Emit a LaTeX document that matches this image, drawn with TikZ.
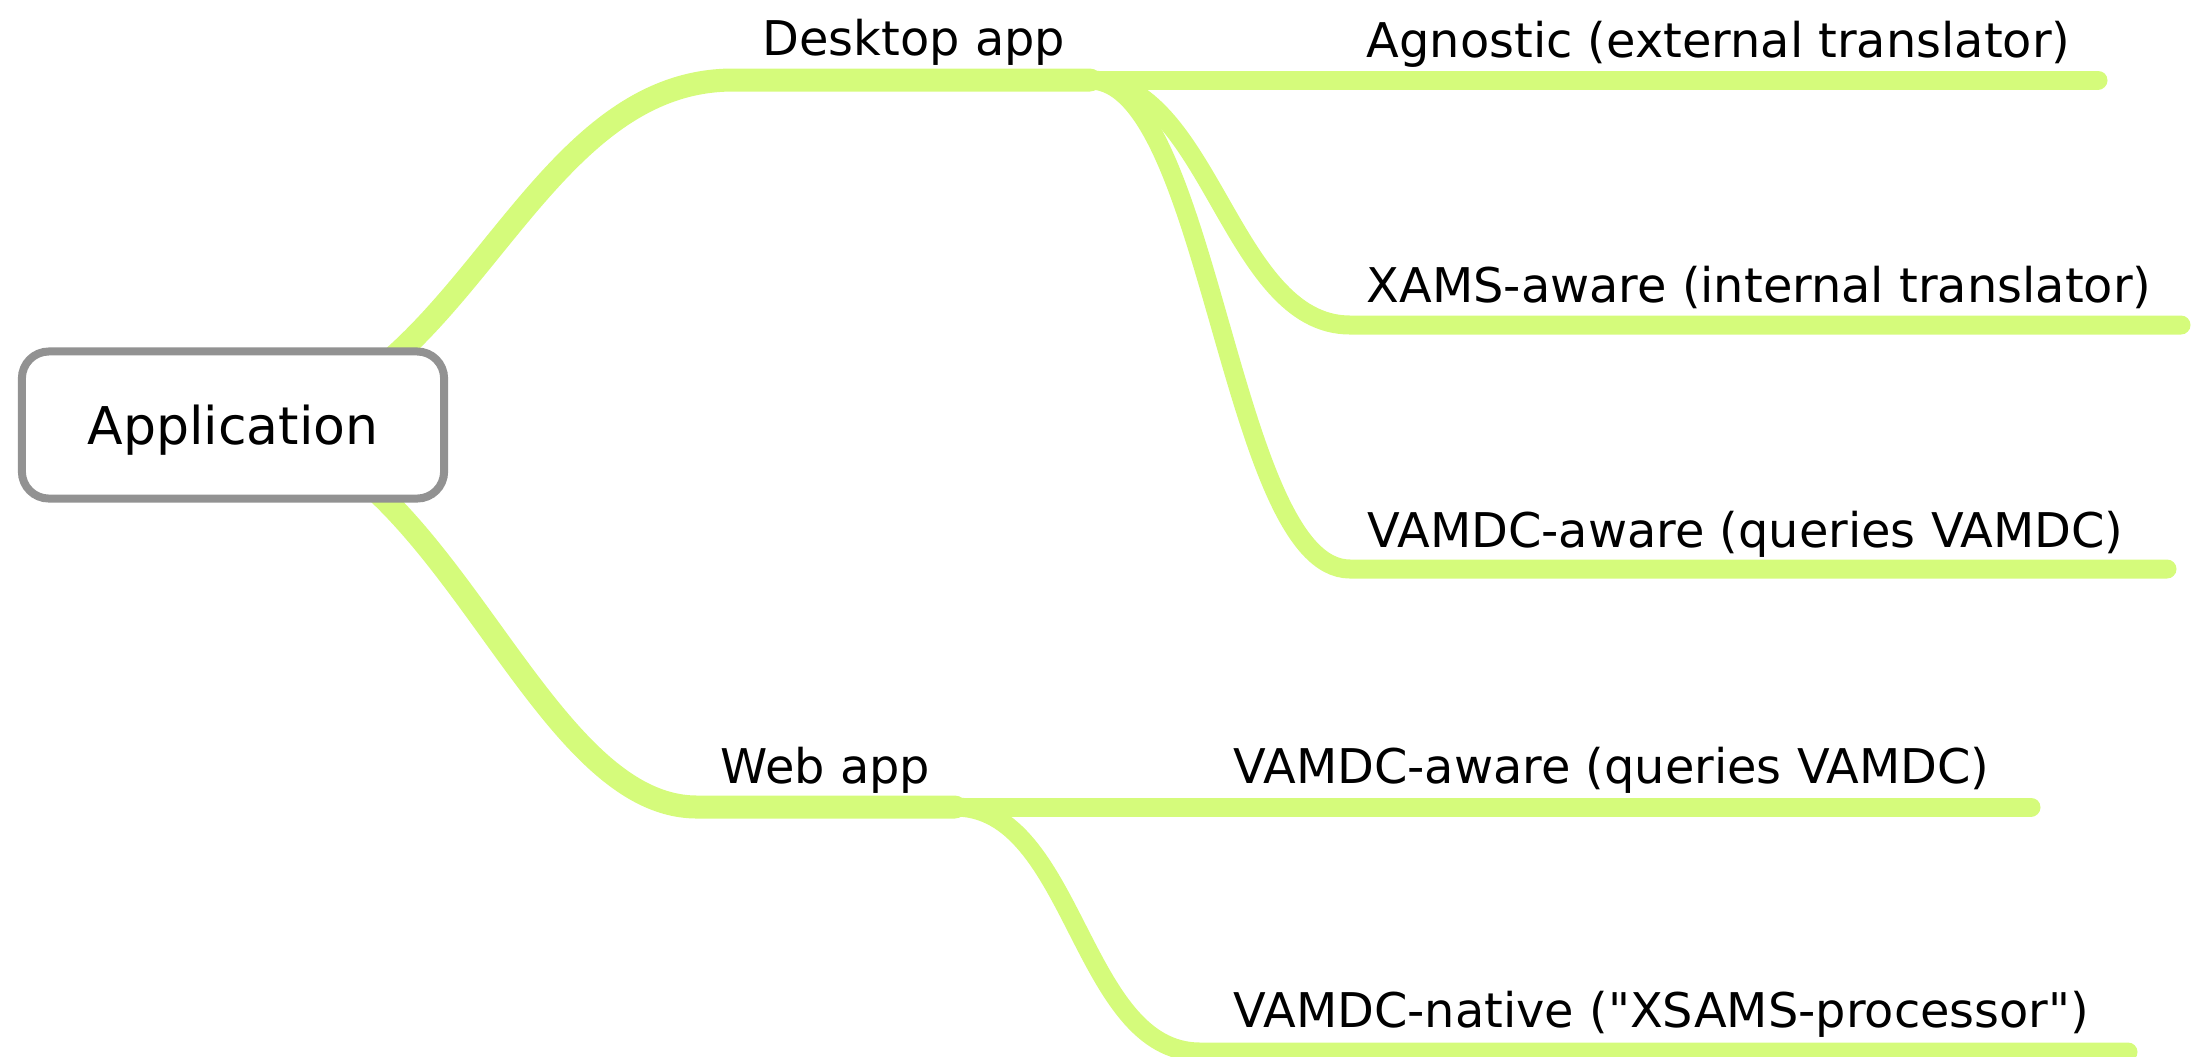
\documentclass[tikz,border=0pt]{standalone}
\usepackage{fontspec}
\setmainfont{DejaVu Sans}
\usetikzlibrary{positioning,backgrounds}
\definecolor{branchgreen}{RGB}{213,251,123}
\definecolor{boxgray}{RGB}{146,146,146}
\tikzstyle{branch} = [draw=branchgreen, line width=0.23cm, line cap=round]
\tikzstyle{twig}   = [draw=branchgreen, line width=0.19cm, line cap=round]

\begin{document}
\begin{tikzpicture}[x=0.01cm, y=-0.01cm,
		root/.style={draw=boxgray, line width=0.08cm, rounded corners=0.27cm, fill=white,
				minimum width=4.22cm, minimum height=1.47cm, text depth=0pt,
				font=\fontsize{14.8}{18}\selectfont},
		leaf/.style={anchor=base west, inner sep=0pt, font=\fontsize{13.6}{16}\selectfont},
	]
	\useasboundingbox (0,0) rectangle (2193,1056);

	\node[root] (app) at (233,425) {Application};

	% topics
	\node[leaf] (desktop)  at (762,55)   {Desktop app};
	\node[leaf] (web)      at (720,783)  {Web app};
	\node[leaf] (agnostic) at (1366,57)  {Agnostic (external translator)};
	\node[leaf] (xams)     at (1366,302) {XAMS-aware (internal translator)};
	\node[leaf] (vamdcd)   at (1367,547) {VAMDC-aware (queries VAMDC)};
	\node[leaf] (vamdcw)   at (1233,783) {VAMDC-aware (queries VAMDC)};
	\node[leaf] (vamdcn)   at (1233,1027) {VAMDC-native (\textquotedbl XSAMS-processor\textquotedbl)};

	\coordinate (dfork) at (1090,80);
	\coordinate (wfork) at (955,807);
	\coordinate (agnostic-end) at (2098,80);
	\coordinate (xams-end)     at (2181,325);
	\coordinate (vamdcd-end)   at (2167,569);
	\coordinate (vamdcw-end)   at (2031,807);
	\coordinate (vamdcn-end)   at (2128,1052);

	\begin{scope}[on background layer]
		\draw[branch] (app.center) .. controls +(227,0) and +(-213,0) .. (733,80) -- (dfork);
		\draw[branch] (app.center) .. controls +(207,0) and +(-167,0) .. (697,807) -- (wfork);

		\draw[twig] (dfork) -- (agnostic-end);
		\draw[twig] (dfork) .. controls +(120,0) and +(-120,0) .. (1350,325) -- (xams-end);
		\draw[twig] (dfork) .. controls +(120,0) and +(-120,0) .. (1350,569) -- (vamdcd-end);
		\draw[twig] (wfork) -- (vamdcw-end);
		\draw[twig] (wfork) .. controls +(120,0) and +(-120,0) .. (1200,1052) -- (vamdcn-end);
	\end{scope}
\end{tikzpicture}
\end{document}
